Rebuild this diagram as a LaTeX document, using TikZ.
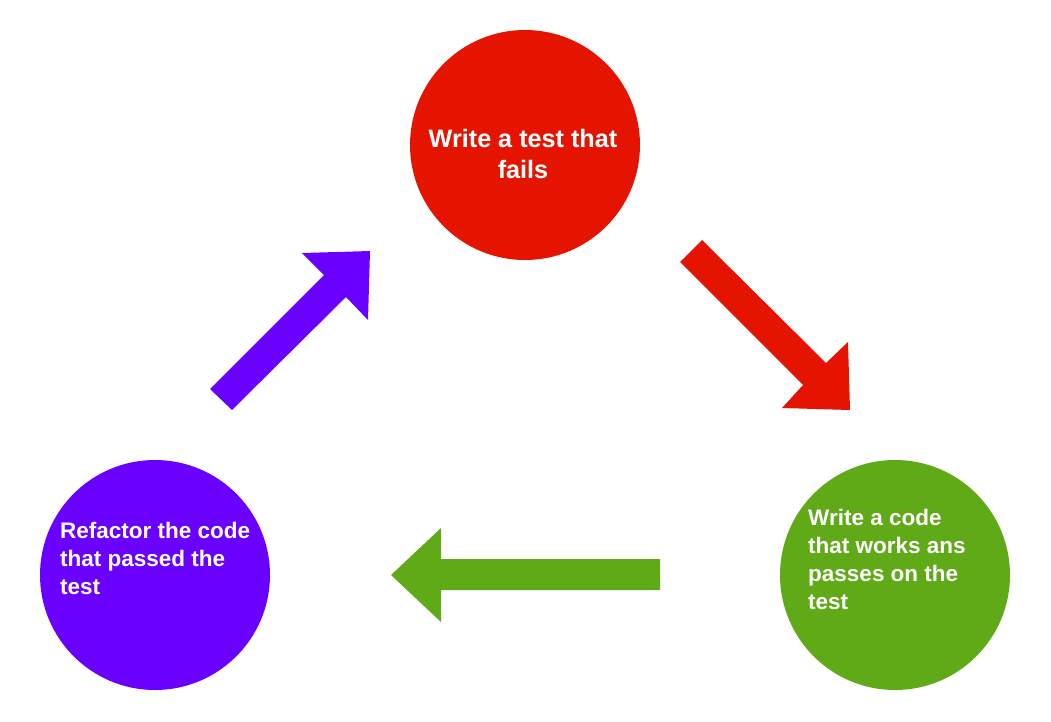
\documentclass[tikz,border=0pt]{standalone}
\usepackage{fontspec}
\setmainfont{Liberation Sans}
\definecolor{cred}{HTML}{E51400}
\definecolor{cpurple}{HTML}{6A00FF}
\definecolor{cgreen}{HTML}{60A917}
\tikzset{
  stage/.style={circle, minimum size=230pt, inner sep=0pt, draw=none},
  bigtext/.style={text=white, inner sep=0pt, font=\bfseries\fontsize{25.2}{31}\selectfont},
  smalltext/.style={text=white, inner sep=0pt, align=left, anchor=north west, font=\bfseries\fontsize{22.5}{28.3}\selectfont},
}
\begin{document}
\begin{tikzpicture}[x=1pt,y=-1pt]
\useasboundingbox[fill=white] (0,0) rectangle (1051,721);
% circles
\node[stage, fill=cred] (red) at (525,145) {};
\node[stage, fill=cpurple] (purple) at (155,575) {};
\node[stage, fill=cgreen] (green) at (895,575) {};
% texts
\node[bigtext, align=center] (redtext) at (523,154) {Write a test that\\fails};
\node[smalltext] (purpletext) at (60,521.5) {Refactor the code\\that passed the\\test};
\node[smalltext] (greentext) at (808,508.5) {Write a code\\that works ans\\passes on the\\test};
% block arrows
\fill[cpurple] (210,389) -- (324,275) -- (302,253) -- (370,251) -- (368,320) -- (346,297) -- (232,410) -- cycle;
\fill[cred] (680,262) -- (803,385) -- (782,408) -- (850,410) -- (848,342) -- (826,363) -- (702,240) -- cycle;
\fill[cgreen] (660,559) -- (441,559) -- (441,528) -- (391,575) -- (441,622) -- (441,590) -- (660,590) -- cycle;
\end{tikzpicture}
\end{document}
